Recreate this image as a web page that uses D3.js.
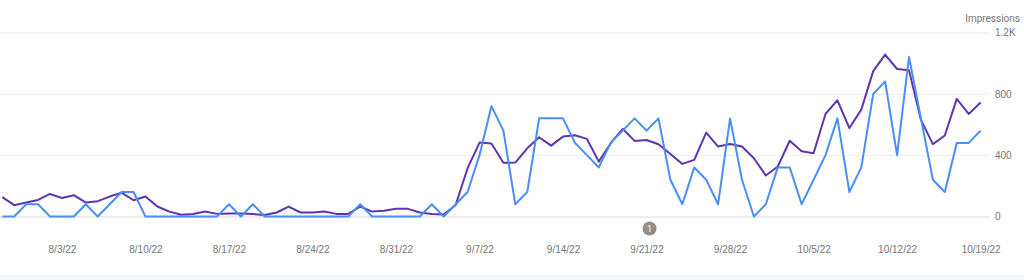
<!DOCTYPE html>
<html>
<head>
<meta charset="utf-8">
<script src="https://cdn.jsdelivr.net/npm/d3@7"></script>
<style>
  html, body { margin: 0; padding: 0; background: #ffffff; }
  svg { display: block; font-family: Roboto, "Noto Sans", Arial, sans-serif; }
</style>
</head>
<body>
<svg id="chart" width="1024" height="280"></svg>
<script>
// ---- data ----
const startDate = "2022-07-29";
const endDate = "2022-10-19";
const impressions = [
  126, 74, 91, 108, 147, 121, 139, 91, 100, 130,
  156, 106, 130, 65, 32, 11, 16, 32, 17, 20,
  20, 16, 10, 26, 65, 26, 26, 32, 17, 17,
  65, 32, 37, 50, 50, 26, 17, 13, 75, 315,
  482, 476, 350, 352, 445, 517, 462, 521, 530, 506,
  358, 478, 572, 493, 499, 471, 408, 343, 369, 547,
  456, 473, 456, 380, 267, 326, 494, 425, 413, 669,
  758, 577, 697, 948, 1056, 962, 954, 630, 472, 528,
  767, 669, 744
];
const clicks = [
  0, 0, 1, 1, 0, 0, 0, 1, 0, 1,
  2, 2, 0, 0, 0, 0, 0, 0, 0, 1,
  0, 1, 0, 0, 0, 0, 0, 0, 0, 0,
  1, 0, 0, 0, 0, 0, 1, 0, 1, 2,
  5, 9, 7, 1, 2, 8, 8, 8, 6, 5,
  4, 6, 7, 8, 7, 8, 3, 1, 4, 3,
  1, 8, 3, 0, 1, 4, 4, 1, 3, 5,
  8, 2, 4, 10, 11, 5, 13, 8, 3, 2,
  6, 6, 7
];
const xTickDates = ["2022-08-03","2022-08-10","2022-08-17","2022-08-24","2022-08-31","2022-09-07",
                    "2022-09-14","2022-09-21","2022-09-28","2022-10-05","2022-10-12","2022-10-19"];
const yTicks = [0, 400, 800, 1200];
const yTickLabels = ["0", "400", "800", "1.2K"];
const clicksMax = 15;
const axisTitle = "Impressions";
const annotationDate = "2022-09-21";
const annotationText = "1";

// ---- setup ----
const parse = d3.utcParse("%Y-%m-%d");
const dates = d3.utcDay.range(parse(startDate), d3.utcDay.offset(parse(endDate), 1));
const svg = d3.select("#chart");

const x = d3.scaleUtc().domain([parse(startDate), parse(endDate)]).range([2.3, 980.6]);
const y = d3.scaleLinear().domain([0, 1200]).range([216.5, 32.5]);
const yClicks = d3.scaleLinear().domain([0, clicksMax]).range([216.5, 32.5]);

// bottom strip
svg.append("rect").attr("x", 0).attr("y", 275).attr("width", 1024).attr("height", 5).attr("fill", "#f1f4fb");

// gridlines
const grid = svg.append("g").attr("transform", "translate(0,0)")
  .call(d3.axisRight(y).tickValues(yTicks).tickSize(989).tickFormat(""));
grid.select(".domain").remove();
grid.selectAll(".tick line")
  .attr("stroke", (d) => d === 0 ? "#d9d9d9" : "#ececec")
  .attr("stroke-width", 1);

// y labels
const yAxis = svg.append("g").attr("transform", "translate(995,0)")
  .call(d3.axisRight(y).tickValues(yTicks).tickSize(0).tickPadding(0)
    .tickFormat((d, i) => yTickLabels[i]));
yAxis.select(".domain").remove();
yAxis.selectAll("text").attr("fill", "#757575").style("font-size", "10px").attr("text-anchor", "start");

// axis title
svg.append("text").attr("x", 1020).attr("y", 21.5).attr("text-anchor", "end")
  .attr("fill", "#757575").style("font-size", "10px").text(axisTitle);

// x labels
const xAxis = svg.append("g").attr("transform", "translate(0,216.5)")
  .call(d3.axisBottom(x).tickValues(xTickDates.map(parse)).tickSize(0).tickPadding(29)
    .tickFormat(d3.utcFormat("%-m/%-d/%y")));
xAxis.select(".domain").remove();
xAxis.selectAll("text").attr("fill", "#757575").style("font-size", "10px");

// lines
const impLine = d3.line().x((d, i) => x(dates[i])).y(d => y(d));
const clkLine = d3.line().x((d, i) => x(dates[i])).y(d => yClicks(d));

svg.append("path").datum(impressions).attr("d", impLine)
  .attr("fill", "none").attr("stroke", "#5e35b1").attr("stroke-width", 2)
  .attr("stroke-linejoin", "round");
svg.append("path").datum(clicks).attr("d", clkLine)
  .attr("fill", "none").attr("stroke", "#4a8ff5").attr("stroke-width", 2)
  .attr("stroke-linejoin", "round");

// annotation marker
const ax = x(parse(annotationDate)) + 3;
svg.append("circle").attr("cx", ax).attr("cy", 228.5).attr("r", 7).attr("fill", "#8f8f8f");
svg.append("text").attr("x", ax).attr("y", 228.5).attr("dy", "0.35em").attr("text-anchor", "middle")
  .attr("fill", "#ffffff").style("font-size", "9px").text(annotationText);
</script>
</body>
</html>
